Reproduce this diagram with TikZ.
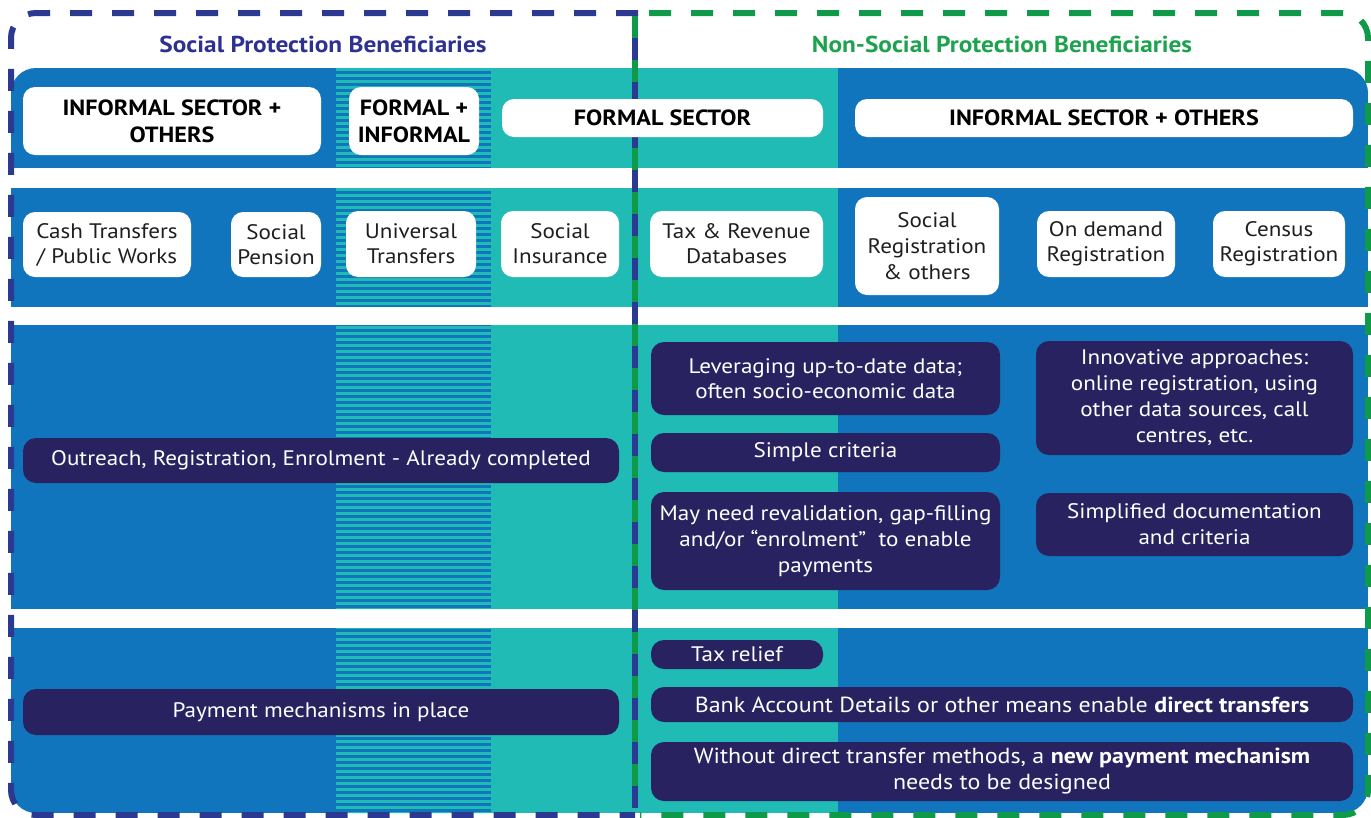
\documentclass[tikz,border=0pt]{standalone}
\usepackage{fontspec}
\setmainfont{PT Sans}[FakeStretch=1.1]
\definecolor{bandblue}{HTML}{1075BD}
\definecolor{myteal}{HTML}{1FBBB4}
\definecolor{navy}{HTML}{282260}
\definecolor{dashblue}{HTML}{2B3990}
\definecolor{dashgreen}{HTML}{0E9A48}
\definecolor{titleblue}{HTML}{2E3192}
\definecolor{titlegreen}{HTML}{1DA34D}
\begin{document}
\begin{tikzpicture}[x=1pt,y=-1pt,
  wbox/.style={fill=white, rounded corners=12pt, align=center, inner sep=0pt, text=black!88, font=\fontsize{21}{25}\selectfont},
  hbox/.style={wbox, text=black, font=\bfseries\fontsize{22}{27}\selectfont},
  dbox/.style={fill=navy, rounded corners=13pt, align=center, inner sep=0pt, text=white, font=\fontsize{21}{26}\selectfont},
  ttl/.style={font=\bfseries\fontsize{23}{27}\selectfont, inner sep=0pt},
  bdash/.style={line width=6pt, dash pattern=on 22pt off 20pt, rounded corners=25pt},
  mseg/.style={line width=6pt}]
\useasboundingbox (0,0) rectangle (1371,817);
% bands
\begin{scope}
\clip[rounded corners=25pt] (11,68) rectangle (1368,813);
\fill[bandblue] (11,68) rectangle (1368,813);
\fill[myteal] (491,68) rectangle (838,813);
\foreach \yy in {68,74,...,812} \fill[myteal] (336,\yy) rectangle (491,\yy+3);
\end{scope}
\fill[white] (0,168) rectangle (1371,188);
\fill[white] (0,307) rectangle (1371,325);
\fill[white] (0,609) rectangle (1371,628);
% dashed borders
\draw[dashblue, bdash] (638,13) -- (11,13) -- (11,815) -- (635,815);
\draw[dashgreen, bdash] (649,13) -- (1368,13) -- (1368,815) -- (640,815);
\foreach \yy in {16,60,...,800} {
  \draw[dashgreen, mseg] (635,\yy) -- (635,\yy+22);
  \draw[dashblue, mseg] (635,\yy+22) -- (635,\yy+44);
}
% titles
\node[ttl, text=titleblue] (t1) at (323,44) {Social Protection Beneficiaries};
\node[ttl, text=titlegreen] (t2) at (1002,44) {Non-Social Protection Beneficiaries};
% band 1
\node[hbox, minimum width=298pt, minimum height=68pt] (h1) at (172,121) {INFORMAL SECTOR +\\OTHERS};
\node[hbox, minimum width=130pt, minimum height=68pt] (h2) at (414,121) {FORMAL +\\INFORMAL};
\node[hbox, minimum width=321pt, minimum height=38pt] (h3) at (662.5,118) {FORMAL SECTOR};
\node[hbox, minimum width=498pt, minimum height=38pt] (h4) at (1104,118) {INFORMAL SECTOR + OTHERS};
% band 2
\node[wbox, minimum width=168pt, minimum height=65pt] (c1) at (107,244.5) {Cash Transfers\\/ Public Works};
\node[wbox, minimum width=90pt, minimum height=65pt] (c2) at (276,244.5) {Social\\Pension};
\node[wbox, minimum width=130pt, minimum height=66pt] (c3) at (411,244) {Universal\\Transfers};
\node[wbox, minimum width=118pt, minimum height=66pt] (c4) at (560,244) {Social\\Insurance};
\node[wbox, minimum width=173pt, minimum height=66pt] (c5) at (736.5,244) {Tax \& Revenue\\Databases};
\node[wbox, minimum width=144pt, minimum height=98pt, font=\fontsize{21}{26}\selectfont] (c6) at (927,246) {Social\\Registration\\\& others};
\node[wbox, minimum width=138pt, minimum height=66pt] (c7) at (1106,244) {On demand\\Registration};
\node[wbox, minimum width=132pt, minimum height=66pt] (c8) at (1279,244) {Census\\Registration};
% band 3
\node[dbox, minimum width=596pt, minimum height=45pt] (o1) at (321,460.5) {Outreach, Registration, Enrolment - Already completed};
\node[dbox, minimum width=349pt, minimum height=73pt, font=\fontsize{21}{25}\selectfont] (d1) at (825.5,378.5) {Leveraging up-to-date data;\\often socio-economic data};
\node[dbox, minimum width=349pt, minimum height=39pt] (d2) at (825.5,452.5) {Simple criteria};
\node[dbox, minimum width=349pt, minimum height=98pt] (d3) at (825.5,541) {May need revalidation, gap-filling\\and/or “enrolment”\ \ to enable\\payments};
\node[dbox, minimum width=317pt, minimum height=114pt] (d4) at (1194.5,398) {Innovative approaches:\\online registration, using\\other data sources, call\\centres, etc.};
\node[dbox, minimum width=317pt, minimum height=63pt] (d5) at (1194.5,524.5) {Simplified documentation\\and criteria};
% band 4
\node[dbox, minimum width=596pt, minimum height=46pt] (p1) at (321,712) {Payment mechanisms in place};
\node[dbox, minimum width=172pt, minimum height=29pt] (q1) at (737,654.5) {Tax relief};
\node[dbox, minimum width=702pt, minimum height=35pt, font=\fontsize{21.8}{26}\selectfont] (q2) at (1002,704.5) {Bank Account Details or other means enable \textbf{direct transfers}};
\node[dbox, minimum width=702pt, minimum height=59pt, font=\fontsize{21.8}{26}\selectfont] (q3) at (1002,771.5) {Without direct transfer methods, a \textbf{new payment mechanism}\\needs to be designed};
\end{tikzpicture}
\end{document}
